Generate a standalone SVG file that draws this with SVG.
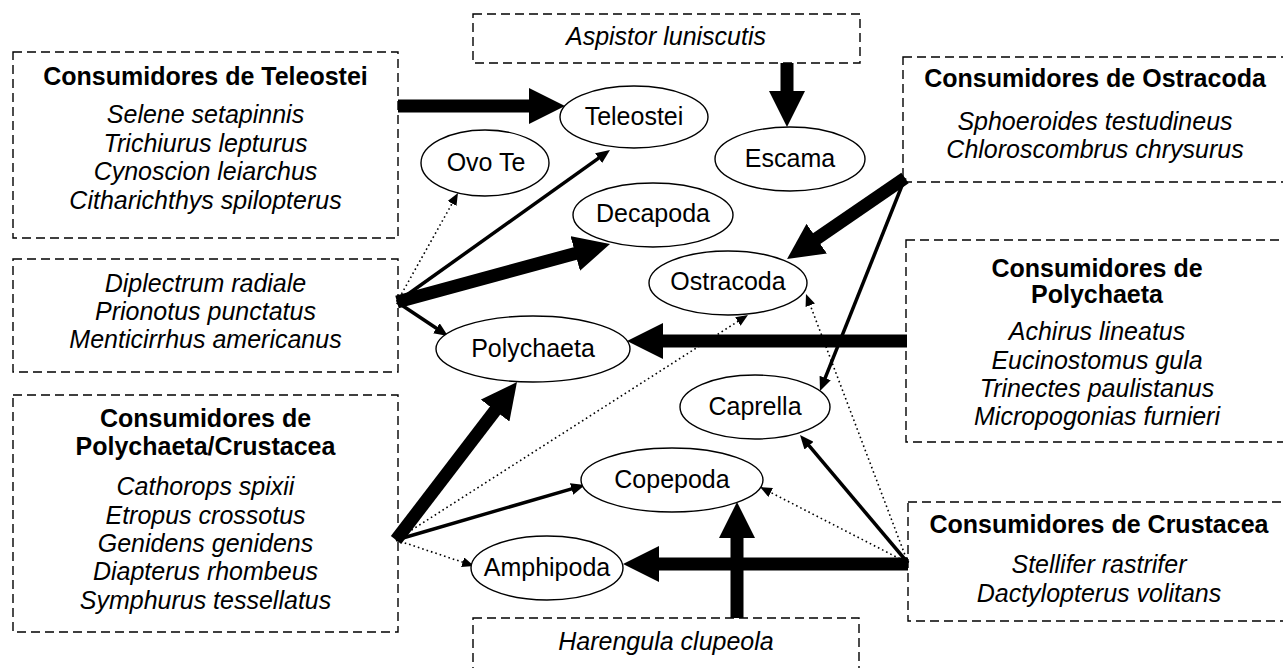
<svg xmlns="http://www.w3.org/2000/svg" width="1283" height="668" viewBox="0 0 1283 668">
  <style>
    .box { fill: #fff; stroke: #000; stroke-width: 1.4; stroke-dasharray: 9 5; }
    .node { fill: #fff; stroke: #000; stroke-width: 1.4; }
    text { font-family: "Liberation Sans", Arial, Helvetica, sans-serif; font-size: 25px; fill: #000; text-anchor: middle; }
    .title { font-weight: bold; }
    .sp { font-style: italic; }
    .thick { stroke: #000; stroke-width: 13; fill: none; marker-end: url(#hb); }
    .solid { stroke: #000; stroke-width: 3.5; fill: none; marker-end: url(#hm); }
    .dot { stroke: #000; stroke-width: 1.6; stroke-dasharray: 1.6 3; fill: none; marker-end: url(#hs); }
  </style>
  <defs>
    <marker id="hb" markerUnits="userSpaceOnUse" viewBox="0 -18 36 36" markerWidth="36" markerHeight="36" refX="1" refY="0" orient="auto">
      <path d="M0,-18 L36,0 L0,18 Z" fill="#000"/>
    </marker>
    <marker id="hm" markerUnits="userSpaceOnUse" viewBox="0 -6 14 12" markerWidth="14" markerHeight="12" refX="1" refY="0" orient="auto">
      <path d="M0,-6 L14,0 L0,6 Z" fill="#000"/>
    </marker>
    <marker id="hs" markerUnits="userSpaceOnUse" viewBox="0 -5 12 10" markerWidth="12" markerHeight="10" refX="1" refY="0" orient="auto">
      <path d="M0,-5 L12,0 L0,5 Z" fill="#000"/>
    </marker>
  </defs>
  <rect width="1283" height="668" fill="#fff"/>

  <!-- consumer groups -->
  <g id="cons-teleostei">
    <rect class="box" x="13" y="52" width="385" height="186"/>
    <text class="title" x="205.5" y="85">Consumidores de Teleostei</text>
    <text class="sp" x="205.5" y="123">Selene setapinnis</text>
    <text class="sp" x="205.5" y="151.5">Trichiurus lepturus</text>
    <text class="sp" x="205.5" y="180">Cynoscion leiarchus</text>
    <text class="sp" x="205.5" y="208.5">Citharichthys spilopterus</text>
  </g>
  <g id="cons-mixed">
    <rect class="box" x="13" y="259" width="385" height="113"/>
    <text class="sp" x="205.5" y="292">Diplectrum radiale</text>
    <text class="sp" x="205.5" y="320">Prionotus punctatus</text>
    <text class="sp" x="205.5" y="348">Menticirrhus americanus</text>
  </g>
  <g id="cons-poly-crust">
    <rect class="box" x="13" y="395" width="385" height="237"/>
    <text class="title" x="205.5" y="427">Consumidores de</text>
    <text class="title" x="205.5" y="455">Polychaeta/Crustacea</text>
    <text class="sp" x="205.5" y="495">Cathorops spixii</text>
    <text class="sp" x="205.5" y="523.5">Etropus crossotus</text>
    <text class="sp" x="205.5" y="552">Genidens genidens</text>
    <text class="sp" x="205.5" y="580">Diapterus rhombeus</text>
    <text class="sp" x="205.5" y="608.5">Symphurus tessellatus</text>
  </g>
  <g id="cons-aspistor">
    <rect class="box" x="473" y="14" width="387" height="49"/>
    <text class="sp" x="666" y="45">Aspistor luniscutis</text>
  </g>
  <g id="cons-ostracoda">
    <rect class="box" x="903" y="57" width="390" height="125"/>
    <text class="title" x="1095" y="87">Consumidores de Ostracoda</text>
    <text class="sp" x="1095" y="130">Sphoeroides testudineus</text>
    <text class="sp" x="1095" y="158">Chloroscombrus chrysurus</text>
  </g>
  <g id="cons-polychaeta">
    <rect class="box" x="906" y="240" width="390" height="202"/>
    <text class="title" x="1097" y="277">Consumidores de</text>
    <text class="title" x="1097" y="303">Polychaeta</text>
    <text class="sp" x="1097" y="340">Achirus lineatus</text>
    <text class="sp" x="1097" y="368.5">Eucinostomus gula</text>
    <text class="sp" x="1097" y="397">Trinectes paulistanus</text>
    <text class="sp" x="1097" y="425">Micropogonias furnieri</text>
  </g>
  <g id="cons-crustacea">
    <rect class="box" x="908" y="502" width="390" height="119"/>
    <text class="title" x="1099" y="533">Consumidores de Crustacea</text>
    <text class="sp" x="1099" y="573">Stellifer rastrifer</text>
    <text class="sp" x="1099" y="601.5">Dactylopterus volitans</text>
  </g>
  <g id="cons-harengula">
    <rect class="box" x="473" y="618" width="386" height="70"/>
    <text class="sp" x="666" y="650">Harengula clupeola</text>
  </g>

  <!-- feeding links -->
  <g id="connectors">
    <line class="thick" x1="398" y1="106" x2="530" y2="106" stroke-width="14"/>
    <line class="thick" x1="787" y1="63" x2="787" y2="92" stroke-width="14"/>

    <line class="dot" x1="397" y1="302" x2="452.6" y2="202.6"/>
    <line class="solid" x1="397" y1="302" x2="599.4" y2="157.6"/>
    <line class="thick" x1="397" y1="302" x2="576.2" y2="253.2" stroke-width="12"/>
    <line class="solid" x1="397" y1="302" x2="437.2" y2="328.8"/>

    <line class="thick" x1="396" y1="540" x2="495.7" y2="409.8" stroke-width="12"/>
    <line class="dot" x1="396" y1="540" x2="738.7" y2="320.9"/>
    <line class="solid" x1="396" y1="540" x2="572.5" y2="488.6"/>
    <line class="dot" x1="396" y1="540" x2="463.6" y2="562.5"/>

    <line class="thick" x1="905" y1="178" x2="815.9" y2="239.2"/>
    <line class="solid" x1="905" y1="178" x2="824.8" y2="378.9"/>

    <line class="thick" x1="907" y1="341" x2="662" y2="341"/>

    <line class="thick" x1="908" y1="564" x2="658" y2="564" stroke-width="12"/>
    <line class="solid" x1="908" y1="563" x2="808.4" y2="444.9"/>
    <line class="dot" x1="908" y1="563" x2="809.9" y2="304.3"/>
    <line class="dot" x1="908" y1="563" x2="769.8" y2="492"/>

    <line class="thick" x1="737" y1="618" x2="737" y2="537" stroke-width="12"/>
  </g>

  <!-- prey items -->
  <g id="n-teleostei"><ellipse class="node" cx="634" cy="117" rx="74" ry="31"/><text x="634" y="125">Teleostei</text></g>
  <g id="n-ovo-te"><ellipse class="node" cx="485" cy="163" rx="64" ry="33"/><text x="486" y="171">Ovo Te</text></g>
  <g id="n-escama"><ellipse class="node" cx="790" cy="159" rx="75" ry="32"/><text x="790" y="167">Escama</text></g>
  <g id="n-decapoda"><ellipse class="node" cx="653" cy="215" rx="80" ry="32"/><text x="653" y="222">Decapoda</text></g>
  <g id="n-ostracoda"><ellipse class="node" cx="728" cy="283" rx="79" ry="32"/><text x="728" y="290">Ostracoda</text></g>
  <g id="n-polychaeta"><ellipse class="node" cx="533" cy="349" rx="97" ry="33"/><text x="533" y="357">Polychaeta</text></g>
  <g id="n-caprella"><ellipse class="node" cx="755" cy="407" rx="75" ry="32"/><text x="755" y="415">Caprella</text></g>
  <g id="n-copepoda"><ellipse class="node" cx="672" cy="480" rx="91" ry="32"/><text x="672" y="488">Copepoda</text></g>
  <g id="n-amphipoda"><ellipse class="node" cx="547" cy="568" rx="76" ry="32"/><text x="547" y="576">Amphipoda</text></g>
</svg>
